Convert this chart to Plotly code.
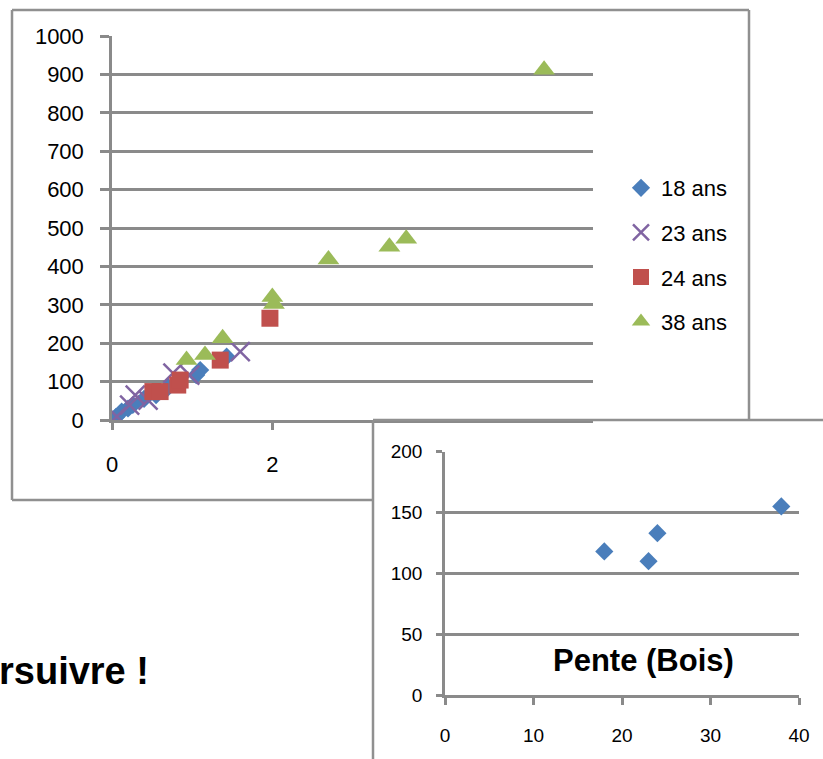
import plotly.graph_objects as go

W, H = 823, 759

# ---------------- data ----------------
x18 = [0.05, 0.12, 0.2, 0.26, 0.4, 0.55, 0.7, 1.05, 1.1, 1.43]
y18 = [8, 22, 30, 39, 55, 65, 85, 117, 130, 165]

x23 = [0.06, 0.22, 0.29, 0.45, 0.76, 0.97, 1.6]
y23 = [9, 39, 65, 52, 122, 117, 178]

x24 = [0.51, 0.6, 0.82, 0.85, 1.35, 1.97]
y24 = [74, 74, 91, 104, 156, 265]

x38 = [0.93, 1.16, 1.38, 2.0, 2.02, 2.7, 3.46, 3.67, 5.39]
y38 = [156, 169, 213, 320, 302, 418, 451, 472, 912]

series_names = ["18 ans", "23 ans", "24 ans", "38 ans"]

# inset: slope vs age
ages = [18, 23, 24, 38]
pentes = [118, 110, 133, 155]

main_yticks = [0, 100, 200, 300, 400, 500, 600, 700, 800, 900, 1000]
main_xticks = [0, 2]
inset_yticks = [0, 50, 100, 150, 200]
inset_xticks = [0, 10, 20, 30, 40]

inset_title = "Pente (Bois)"
side_text = "rsuivre !"

# ---------------- helpers ----------------
def px(x):
    return x / W

def py(y):
    return 1 - y / H

GRID = "#8a8a8a"
FONT = "Liberation Sans, Arial, sans-serif"

fig = go.Figure()

fig.add_trace(go.Scatter(x=x18, y=y18, mode="markers", name=series_names[0],
                         legendgroup="a",
                         marker=dict(symbol="diamond", size=14, color="#4a7ebb"),
                         xaxis="x", yaxis="y"))
fig.add_trace(go.Scatter(x=x23, y=y23, mode="markers", name=series_names[1],
                         legendgroup="b",
                         marker=dict(symbol="x-thin", size=19, color="#8064a2",
                                     line=dict(width=2.5, color="#8064a2")),
                         xaxis="x", yaxis="y"))
fig.add_trace(go.Scatter(x=x24, y=y24, mode="markers", name=series_names[2],
                         legendgroup="c",
                         marker=dict(symbol="square", size=17, color="#c0504d"),
                         xaxis="x", yaxis="y"))
fig.add_trace(go.Scatter(x=x38, y=y38, mode="markers", name=series_names[3],
                         legendgroup="d",
                         marker=dict(symbol="triangle-up", size=19, color="#9bbb59"),
                         xaxis="x", yaxis="y"))

fig.add_trace(go.Scatter(x=ages, y=pentes, mode="markers", showlegend=False,
                         marker=dict(symbol="diamond", size=14, color="#4a7ebb"),
                         xaxis="x2", yaxis="y2"))

axis_common = dict(showgrid=False, zeroline=False, showline=True, linecolor=GRID,
                   linewidth=2.5, ticks="outside", tickcolor=GRID, tickwidth=2.5,
                   automargin=False,
                   tickfont=dict(family=FONT, size=22, color="#000"))

fig.update_layout(
    width=W, height=H,
    margin=dict(l=0, r=0, t=0, b=0, pad=0, autoexpand=False),
    paper_bgcolor="white", plot_bgcolor="rgba(0,0,0,0)",
    showlegend=True,
    legend=dict(x=px(621), y=py(167), xanchor="left", yanchor="top",
                font=dict(family=FONT, size=22, color="#000"),
                tracegroupgap=13, itemwidth=30, bgcolor="rgba(0,0,0,0)"),
    xaxis=dict(axis_common, domain=[px(112), px(593)], range=[0, 6],
               tickvals=main_xticks, ticklen=7, ticklabelstandoff=16,
               anchor="y"),
    yaxis=dict(axis_common, domain=[py(420), py(36)], range=[0, 1000],
               tickvals=main_yticks, ticklen=9, showgrid=True, gridcolor=GRID,
               gridwidth=2.5, ticklabelstandoff=12, anchor="x"),
    xaxis2=dict(axis_common, domain=[px(445), px(799)], range=[0, 40],
                tickvals=inset_xticks, ticklen=7, ticklabelstandoff=14,
                tickfont=dict(family=FONT, size=19, color="#000"), anchor="y2"),
    yaxis2=dict(axis_common, domain=[py(695), py(451.7)], range=[0, 200],
                tickvals=inset_yticks, ticklen=6, showgrid=True, gridcolor=GRID,
                gridwidth=2.5, ticklabelstandoff=10,
                tickfont=dict(family=FONT, size=19, color="#000"), anchor="x2"),
)

# frames
def line(x0, y0, x1, y1, w=2.5, color="#909090"):
    fig.add_shape(type="line", xref="paper", yref="paper",
                  x0=px(x0), y0=py(y0), x1=px(x1), y1=py(y1),
                  line=dict(color=color, width=w), layer="above")

line(12, 10, 749, 10)
line(12, 10, 12, 500)
line(749, 10, 749, 420)
line(12, 500, 373, 500)
line(373, 420, 823, 420)
line(373, 420, 373, 759)

fig.add_annotation(text=inset_title, xref="paper", yref="paper",
                   x=px(643), y=py(660), xanchor="center", yanchor="middle",
                   showarrow=False,
                   font=dict(family=FONT, size=31, color="#000", weight="bold"))

fig.add_annotation(text=side_text, xref="paper", yref="paper",
                   x=px(-3), y=py(671), xanchor="left", yanchor="middle",
                   showarrow=False,
                   font=dict(family="Liberation Sans Narrow, Liberation Sans, Arial", size=38,
                             color="#000", weight="bold"))

fig.write_html("out.html",
               config={"displayModeBar": False},
               post_script="document.body.style.margin='0';document.body.style.overflow='hidden';")
